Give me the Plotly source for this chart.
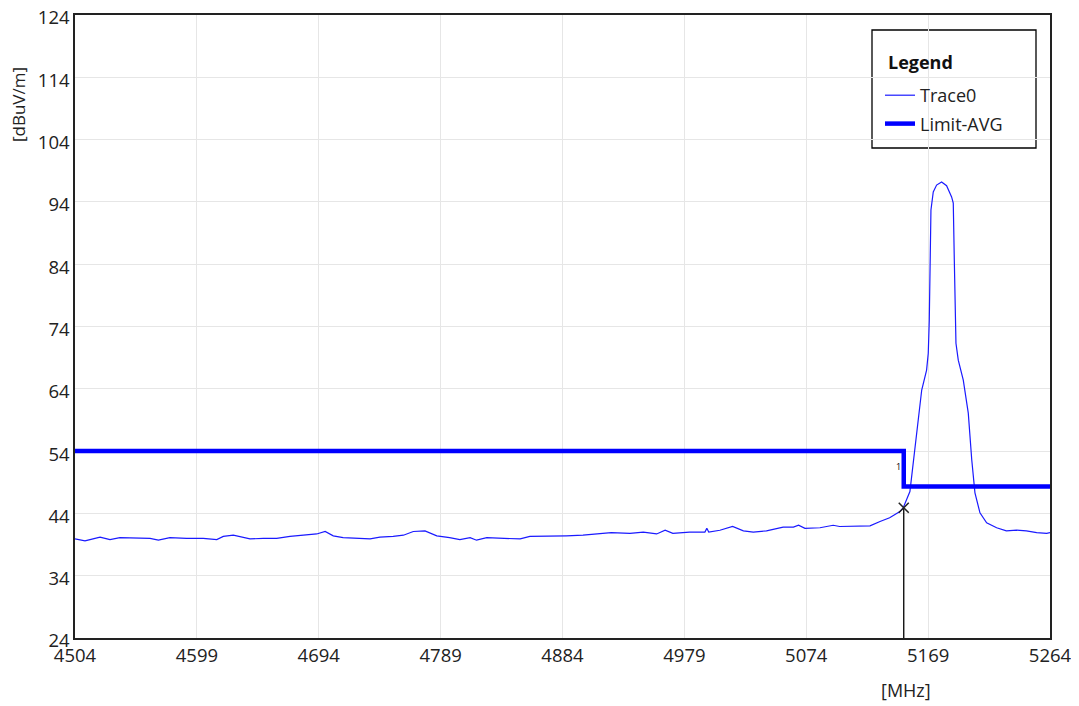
import plotly.graph_objects as go

# ---------------- data ----------------
freq_mhz = [
    4504, 4511.8, 4523.5, 4531.3, 4539, 4552, 4562.5, 4569, 4578, 4591, 4604, 4614.5,
    4619.6, 4627.4, 4632.6, 4640.4, 4650.8, 4661.2, 4671.6, 4682, 4692.4, 4699, 4705.3,
    4713, 4726, 4734, 4741.7, 4752, 4760, 4767.7, 4776.8, 4786, 4796, 4804, 4812, 4817,
    4825, 4838, 4851, 4858.6, 4869, 4880, 4887, 4900, 4913, 4922, 4936.6, 4947, 4957.4,
    4964, 4970, 4983, 4995, 4996.5, 4998, 5006.7, 5016.6, 5025, 5032.7, 5043, 5056, 5064,
    5068, 5073, 5084.7, 5095, 5100, 5113, 5123.7, 5131.5, 5139, 5147, 5149.6, 5154.8,
    5158.7, 5161.4, 5164, 5167.8, 5169.1, 5169.9, 5170.4, 5171.2, 5173, 5175.6, 5179.5,
    5183.4, 5187.3, 5188.6, 5189.4, 5190, 5190.7, 5192.5, 5196.4, 5200.3, 5203, 5205.5,
    5209.4, 5214.6, 5222.4, 5230, 5238, 5245.6, 5253.6, 5261.4, 5264,
]
trace0_dbuv = [
    39.9, 39.6, 40.2, 39.8, 40.1, 40.0, 40.0, 39.7, 40.1, 40.0, 40.0, 39.8,
    40.3, 40.5, 40.3, 39.9, 40.0, 40.0, 40.3, 40.5, 40.7, 41.1, 40.4,
    40.1, 40.0, 39.9, 40.2, 40.3, 40.5, 41.1, 41.2, 40.4, 40.1, 39.8, 40.1, 39.7,
    40.1, 40.0, 39.9, 40.3, 40.3, 40.4, 40.4, 40.5, 40.7, 40.9, 40.8, 41.0, 40.7,
    41.3, 40.8, 41.0, 41.0, 41.6, 41.0, 41.3, 41.9, 41.2, 41.0, 41.2, 41.8, 41.8,
    42.1, 41.6, 41.7, 42.1, 41.9, 42.0, 42.0, 42.7, 43.3, 44.3, 44.9, 47.5,
    54.2, 59.0, 63.8, 67.0, 69.7, 75.0, 84.7, 92.7, 95.6, 96.7, 97.2,
    96.6, 94.8, 93.8, 84.7, 79.4, 71.3, 68.6, 65.4, 60.1, 52.6, 47.3,
    44.1, 42.5, 41.7, 41.2, 41.3, 41.2, 40.9, 40.8, 40.9,
]

limit_freq = [4504, 5150, 5150, 5264]
limit_avg = [54.0, 54.0, 48.3, 48.3]

marker_freq = 5150
marker_level = 44.9
marker_label = "1"

x_ticks = [4504, 4599, 4694, 4789, 4884, 4979, 5074, 5169, 5264]
y_ticks = [24, 34, 44, 54, 64, 74, 84, 94, 104, 114, 124]

FONT = "Open Sans, Noto Sans, sans-serif"

# page body has an 8px margin; figure is sized/offset to compensate
W, H = 1071, 698
L, T, PW, PH = 67, 7, 975, 623
R, B = W - L - PW, H - T - PH


def px_x(x):  # page pixel -> paper x
    return (x - 8 - L) / PW


def px_y(y):  # page pixel -> paper y
    return 1 - (y - 8 - T) / PH


# ---------------- figure ----------------
fig = go.Figure()

fig.add_trace(go.Scatter(
    x=freq_mhz, y=trace0_dbuv, mode="lines", name="Trace0", legendgroup="a",
    line=dict(color="#1a1aff", width=1.2),
))
fig.add_trace(go.Scatter(
    x=limit_freq, y=limit_avg, mode="lines", name="Limit-AVG", legendgroup="b",
    line=dict(color="#0000ff", width=4.5),
))
# marker drop line + X
fig.add_trace(go.Scatter(
    x=[marker_freq, marker_freq], y=[y_ticks[0], marker_level], mode="lines",
    line=dict(color="black", width=1.3), showlegend=False, hoverinfo="skip",
))
fig.add_trace(go.Scatter(
    x=[marker_freq], y=[marker_level], mode="markers",
    marker=dict(symbol="x-thin-open", size=10, color="#222",
                line=dict(color="#222", width=1.5)),
    showlegend=False,
))

fig.add_annotation(x=marker_freq, y=51.6, text=marker_label, showarrow=False,
                   xanchor="right", xshift=-1, font=dict(size=9, color="black", family=FONT))

# legend box
fig.add_shape(type="rect", xref="paper", yref="paper",
              x0=px_x(872), x1=px_x(1036), y0=px_y(148), y1=px_y(30),
              line=dict(color="black", width=1.3), fillcolor="white", layer="below")
fig.add_annotation(xref="paper", yref="paper", x=px_x(886), y=px_y(62),
                   xanchor="left", yanchor="middle", text="<b>Legend</b>", showarrow=False,
                   font=dict(size=18, color="#111", family=FONT))

# axis titles as annotations
fig.add_annotation(xref="paper", yref="paper", x=px_x(18), y=px_y(105),
                   xanchor="center", yanchor="middle",
                   text="[dBuV/m]", textangle=-90, showarrow=False,
                   font=dict(size=17, color="#222", family=FONT))
fig.add_annotation(xref="paper", yref="paper", x=px_x(906), y=px_y(690),
                   xanchor="center", yanchor="middle",
                   text="[MHz]", showarrow=False,
                   font=dict(size=18, color="#222", family=FONT))

axis_common = dict(
    showgrid=True, gridcolor="#e6e6e6", gridwidth=1,
    showline=True, linecolor="#222", linewidth=1.5, mirror=True,
    zeroline=False, ticks="", automargin=False, ticklabeloverflow="allow",
    tickfont=dict(size=18.5, color="#222", family=FONT),
)
fig.update_xaxes(range=[4504, 5264], tickvals=x_ticks, ticktext=[str(v) for v in x_ticks],
                 **axis_common)
fig.update_yaxes(range=[24, 124], tickvals=y_ticks, ticktext=[str(v) for v in y_ticks],
                 ticklabelshift=3, **axis_common)

fig.update_layout(
    width=W, height=H,
    margin=dict(l=L, r=R, t=T, b=B, autoexpand=False),
    paper_bgcolor="white", plot_bgcolor="white",
    font=dict(family=FONT, size=16, color="#222"),
    showlegend=True,
    legend=dict(
        x=px_x(880), y=px_y(77), xanchor="left", yanchor="top",
        bgcolor="rgba(0,0,0,0)", borderwidth=0,
        font=dict(size=18, family=FONT, color="#222"),
        itemwidth=30, tracegroupgap=2,
    ),
)

fig.write_html("out.html")
